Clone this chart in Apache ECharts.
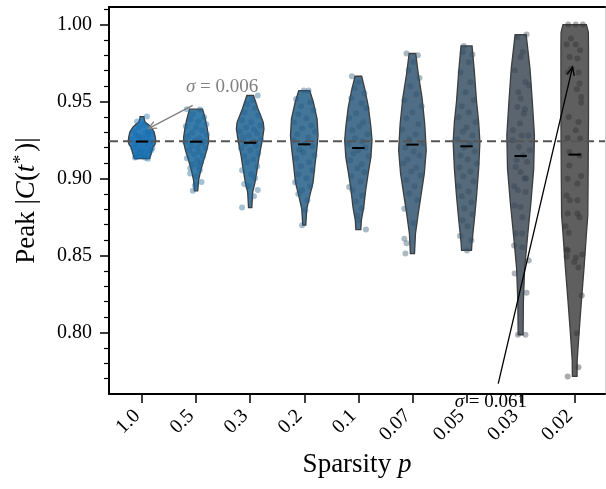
<!DOCTYPE html>
<html><head><meta charset="utf-8">
<script src="https://cdn.jsdelivr.net/npm/echarts@6/dist/echarts.min.js"></script>
<style>html,body{margin:0;padding:0;background:#fff}#c{width:606px;height:489px}</style>
</head><body><div id="c"></div>
<script>
// ---------- data ----------
const categories = ['1.0','0.5','0.3','0.2','0.1','0.07','0.05','0.03','0.02'];
const yMajorTicks = [0.80,0.85,0.90,0.95,1.00];
const yMinorTicks = [0.77,0.78,0.79,0.81,0.82,0.83,0.84,0.86,0.87,0.88,0.89,0.91,0.92,0.93,0.94,0.96,0.97,0.98,0.99,1.01];
const referenceLevel = 0.9242;
const medians = [0.9240,0.9239,0.9232,0.9222,0.9198,0.9220,0.9209,0.9146,0.9155];

// violin outlines: [value, relative density]
const outline10  = [[0.9402,0.14],[0.9385,0.16],[0.9367,0.22],[0.9350,0.45],[0.9334,0.66],[0.9302,0.88],[0.9270,0.96],[0.9241,1.0],[0.9220,0.93],[0.9204,0.80],[0.9161,0.66],[0.9129,0.55]];
const outline05  = [[0.9450,0.47],[0.9410,0.60],[0.9378,0.69],[0.9330,0.80],[0.9270,0.90],[0.9237,0.91],[0.9183,0.77],[0.9107,0.51],[0.9042,0.31],[0.8988,0.18],[0.8920,0.12]];
const outline03  = [[0.9539,0.24],[0.9451,0.57],[0.9365,0.95],[0.9321,1.0],[0.9235,0.85],[0.9149,0.66],[0.9061,0.51],[0.8975,0.35],[0.8910,0.18],[0.8811,0.12]];
const outline02  = [[0.9571,0.40],[0.9495,0.66],[0.9386,0.93],[0.9279,1.0],[0.9191,0.91],[0.9084,0.77],[0.8975,0.64],[0.8889,0.40],[0.8801,0.18],[0.8697,0.11]];
const outline01  = [[0.9664,0.24],[0.9573,0.49],[0.9464,0.73],[0.9334,0.91],[0.9248,0.99],[0.9139,0.91],[0.9032,0.71],[0.8923,0.53],[0.8814,0.39],[0.8728,0.22],[0.8668,0.18]];
const outline007 = [[0.9812,0.24],[0.9682,0.42],[0.9529,0.69],[0.9357,0.89],[0.9183,1.0],[0.9032,0.86],[0.8902,0.64],[0.8772,0.42],[0.8642,0.22],[0.8512,0.15]];
const outline005 = [[0.9861,0.40],[0.9714,0.55],[0.9497,0.73],[0.9367,0.88],[0.9237,0.97],[0.9064,0.88],[0.8890,0.73],[0.8717,0.55],[0.8587,0.40],[0.8533,0.36]];
const outline003 = [[0.9935,0.40],[0.9714,0.68],[0.9497,0.85],[0.9280,1.0],[0.9064,0.95],[0.8847,0.75],[0.8630,0.51],[0.8414,0.29],[0.8197,0.20],[0.7985,0.18]];
const outline002 = [[1.0000,0.85],[0.9950,0.99],[0.9844,1.0],[0.9410,1.0],[0.8977,0.97],[0.8760,0.95],[0.8642,0.85],[0.8424,0.68],[0.8208,0.49],[0.7992,0.31],[0.7818,0.18],[0.7714,0.17]];

// jittered points: [jitter (category units), value]
const points10 = [[0.09,0.9402],[-0.09,0.9371],[0.04,0.9352],[-0.06,0.9332],[0.13,0.9318],[-0.15,0.9306],[0.06,0.9299],[0.17,0.9286],[-0.11,0.9280],[0.00,0.9267],[0.09,0.9260],[-0.19,0.9254],[-0.04,0.9248],[0.15,0.9241],[0.20,0.9235],[-0.13,0.9228],[0.04,0.9222],[-0.07,0.9215],[0.11,0.9209],[-0.17,0.9202],[0.19,0.9196],[0.00,0.9189],[-0.09,0.9183],[0.07,0.9176],[-0.04,0.9170],[0.13,0.9163],[-0.11,0.9157],[0.02,0.9150],[-0.10,0.9139],[0.11,0.9129],[-0.13,0.9137],[0.06,0.9134],[-0.02,0.9144],[-0.06,0.9274],[0.17,0.9183],[0.11,0.9293]];
const points05 = [[-0.17,0.9450],[0.07,0.9448],[-0.06,0.9417],[0.15,0.9397],[-0.11,0.9384],[0.04,0.9371],[0.19,0.9352],[-0.19,0.9339],[0.00,0.9332],[0.11,0.9313],[-0.07,0.9299],[0.20,0.9286],[-0.15,0.9274],[0.06,0.9261],[-0.02,0.9248],[0.15,0.9241],[-0.20,0.9235],[0.09,0.9228],[-0.09,0.9215],[0.02,0.9202],[0.17,0.9196],[-0.13,0.9183],[0.06,0.9170],[-0.04,0.9157],[0.13,0.9144],[-0.17,0.9131],[0.02,0.9118],[0.09,0.9105],[-0.07,0.9092],[0.04,0.9079],[-0.11,0.9066],[0.07,0.9053],[-0.11,0.9032],[0.10,0.8977],[-0.06,0.8920],[0.00,0.9014],[-0.02,0.8955]];
const points03 = [[0.14,0.9539],[0.04,0.9508],[-0.06,0.9482],[0.09,0.9456],[-0.11,0.9430],[0.15,0.9410],[-0.15,0.9378],[0.02,0.9365],[0.19,0.9345],[-0.07,0.9332],[0.07,0.9319],[-0.19,0.9306],[0.13,0.9293],[-0.02,0.9280],[-0.13,0.9267],[0.20,0.9254],[0.06,0.9241],[-0.09,0.9228],[0.11,0.9215],[-0.17,0.9196],[0.00,0.9183],[0.15,0.9163],[-0.11,0.9144],[0.06,0.9124],[-0.06,0.9105],[0.13,0.9079],[-0.15,0.9053],[0.02,0.9027],[0.09,0.9001],[-0.11,0.8964],[0.14,0.8925],[-0.04,0.8949],[-0.15,0.8811],[0.07,0.8884]];
const points02 = [[-0.01,0.9571],[0.08,0.9571],[-0.15,0.9516],[0.11,0.9495],[-0.06,0.9469],[0.17,0.9443],[-0.11,0.9417],[0.04,0.9391],[-0.19,0.9365],[0.13,0.9345],[-0.04,0.9326],[0.20,0.9306],[-0.13,0.9287],[0.07,0.9267],[-0.20,0.9248],[0.02,0.9228],[0.15,0.9209],[-0.09,0.9189],[-0.02,0.9170],[0.19,0.9150],[-0.15,0.9131],[0.09,0.9105],[-0.06,0.9079],[0.15,0.9053],[-0.11,0.9027],[0.04,0.9001],[-0.17,0.8975],[0.11,0.8949],[-0.04,0.8923],[-0.11,0.8899],[0.06,0.8858],[-0.04,0.8697],[0.02,0.8793]];
const points01 = [[-0.12,0.9664],[0.00,0.9625],[-0.07,0.9586],[0.11,0.9553],[-0.13,0.9521],[0.06,0.9488],[0.15,0.9456],[-0.04,0.9423],[-0.17,0.9391],[0.09,0.9365],[0.02,0.9339],[-0.11,0.9313],[0.17,0.9287],[-0.06,0.9261],[0.07,0.9241],[-0.19,0.9222],[0.13,0.9202],[0.00,0.9183],[-0.09,0.9163],[0.19,0.9144],[-0.15,0.9118],[0.06,0.9092],[-0.02,0.9066],[0.11,0.9040],[-0.13,0.9014],[0.04,0.8981],[-0.17,0.8945],[-0.11,0.8923],[0.07,0.8890],[-0.04,0.8851],[0.06,0.8806],[-0.02,0.8760],[0.00,0.8728],[0.14,0.8668]];
const points007 = [[-0.11,0.9812],[0.10,0.9801],[0.02,0.9756],[-0.07,0.9703],[0.13,0.9652],[-0.04,0.9599],[0.07,0.9547],[-0.15,0.9508],[0.17,0.9469],[0.00,0.9430],[-0.11,0.9391],[0.11,0.9352],[-0.19,0.9319],[0.06,0.9287],[-0.06,0.9254],[0.19,0.9228],[-0.13,0.9202],[0.02,0.9176],[0.13,0.9150],[-0.09,0.9124],[-0.17,0.9098],[0.07,0.9072],[-0.02,0.9046],[0.15,0.9020],[-0.11,0.8988],[0.04,0.8949],[-0.06,0.8903],[0.09,0.8858],[-0.15,0.8804],[0.02,0.8710],[-0.15,0.8609],[-0.11,0.8580],[-0.13,0.8512]];
const points005 = [[-0.05,0.9861],[0.11,0.9805],[-0.07,0.9820],[0.04,0.9755],[-0.11,0.9690],[0.07,0.9625],[-0.02,0.9560],[0.13,0.9508],[-0.09,0.9469],[0.04,0.9430],[-0.15,0.9397],[0.17,0.9365],[0.00,0.9332],[-0.07,0.9306],[0.11,0.9280],[-0.17,0.9254],[0.06,0.9228],[-0.04,0.9202],[0.15,0.9176],[-0.11,0.9150],[0.02,0.9124],[0.19,0.9098],[-0.13,0.9072],[0.07,0.9046],[-0.06,0.9014],[0.13,0.8981],[-0.15,0.8949],[0.04,0.8916],[-0.09,0.8884],[0.09,0.8845],[-0.04,0.8806],[0.11,0.8767],[-0.07,0.8728],[0.02,0.8689],[-0.12,0.8626],[0.01,0.8533],[0.09,0.8598]];
const points003 = [[-0.06,0.9919],[0.11,0.9935],[0.00,0.9789],[0.04,0.9822],[-0.11,0.9703],[0.09,0.9627],[0.15,0.9606],[0.00,0.9519],[-0.06,0.9464],[0.06,0.9422],[-0.01,0.9357],[0.14,0.9280],[-0.14,0.9313],[-0.03,0.9204],[0.12,0.9107],[-0.09,0.9074],[0.00,0.9042],[-0.15,0.9248],[0.17,0.9183],[0.07,0.9001],[-0.05,0.8923],[0.09,0.8912],[-0.11,0.8825],[0.00,0.8814],[0.03,0.8749],[-0.09,0.8642],[0.03,0.8642],[-0.12,0.8565],[0.03,0.8554],[0.15,0.8467],[-0.11,0.8382],[0.11,0.8258],[-0.05,0.7985],[0.09,0.7985],[0.05,0.9150],[-0.07,0.9120],[0.02,0.9280],[-0.04,0.9560],[0.08,0.9450],[0.10,0.9000],[-0.12,0.8950]];
const points002 = [[-0.12,1.0000],[0.02,1.0000],[0.15,1.0000],[-0.07,0.9909],[-0.15,0.9870],[0.02,0.9870],[0.10,0.9833],[-0.09,0.9789],[0.05,0.9779],[-0.06,0.9714],[0.07,0.9688],[-0.13,0.9688],[0.09,0.9617],[0.04,0.9579],[0.12,0.9529],[0.12,0.9493],[-0.11,0.9399],[0.07,0.9367],[0.02,0.9313],[-0.13,0.9263],[0.10,0.9259],[-0.10,0.9172],[0.09,0.9150],[-0.10,0.9085],[-0.13,0.8999],[0.12,0.9016],[0.05,0.8967],[-0.15,0.8890],[-0.09,0.8858],[0.05,0.8858],[-0.13,0.8772],[0.05,0.8772],[0.09,0.8749],[-0.17,0.8689],[-0.11,0.8648],[-0.15,0.8538],[-0.13,0.8533],[0.14,0.8507],[-0.15,0.8494],[0.02,0.8486],[-0.01,0.8457],[0.07,0.8421],[0.13,0.8240],[0.04,0.7995],[0.07,0.7774],[-0.13,0.7714]];

// annotations (data coordinates)
const annotTexts = ['0.006','0.061'];
const annotTextAt = [[1.48,0.9592],[6.45,0.7547]];
const annotArrowFrom = [[0.937,0.9475],[6.586,0.7667]];
const annotArrowTo = [[0.116,0.9324],[7.96,0.9724]];

// ---------- styles ----------
const violinOutlines = [outline10,outline05,outline03,outline02,outline01,outline007,outline005,outline003,outline002];
const pointSets = [points10,points05,points03,points02,points01,points007,points005,points003,points002];
const violinFill = ['#2e80bc','#397caa','#3e79a2','#447699','#4a7290','#4f6e86','#556a7b','#5a6570','#5f5f5f'];
const pointColor = ['rgba(20,105,170,0.5)','rgba(28,98,150,0.5)','rgba(32,94,140,0.5)','rgba(36,90,130,0.5)','rgba(40,84,116,0.5)','rgba(44,80,106,0.5)','rgba(48,74,94,0.5)','rgba(50,64,78,0.5)','rgba(45,45,45,0.5)'];
const annotColors = ['#808080','#000000'];
const HALF = 0.255;
const FONT = 'Liberation Serif';
const xMin = -0.61, xMax = 8.56, yMin = 0.76, yMax = 1.0114;

const chart = echarts.init(document.getElementById('c'), null, {renderer:'canvas'});
const catPos = categories.map((c,i)=>i);

const series = [];
series.push({
  type:'custom', z:2, silent:true,
  data: categories.map((c,i)=>[i]),
  renderItem:(params, api)=>{
    const i = params.dataIndex, o = violinOutlines[i];
    const pts = [];
    o.forEach(([v,d])=>pts.push(api.coord([i + d*HALF, v])));
    for (let k=o.length-1;k>=0;k--) pts.push(api.coord([i - o[k][1]*HALF, o[k][0]]));
    return {type:'polygon', shape:{points:pts}, style:{fill:violinFill[i], stroke:'#3d3d3d', lineWidth:1.3}};
  }
});
pointSets.forEach((pts,i)=>{
  series.push({type:'scatter', z:3, silent:true, symbolSize:6,
    itemStyle:{color:pointColor[i]},
    data: pts.map(([j,v])=>[i+j, v])});
});
// dashed reference level across the full axis width
series.push({
  type:'custom', z:4, silent:true,
  data: [[referenceLevel]],
  renderItem:(params, api)=>{
    const v = api.value(0);
    const a = api.coord([xMin, v]), b = api.coord([xMax, v]);
    return {type:'line', shape:{x1:a[0],y1:a[1],x2:b[0],y2:b[1]}, style:{stroke:'#555', lineWidth:1.8, lineDash:[9,5]}};
  }
});
series.push({
  type:'custom', z:5, silent:true,
  data: medians.map((m,i)=>[i,m]),
  renderItem:(params, api)=>{
    const i = api.value(0), m = api.value(1);
    const a = api.coord([i-0.115, m]), b = api.coord([i+0.115, m]);
    return {type:'line', shape:{x1:a[0],y1:a[1],x2:b[0],y2:b[1]}, style:{stroke:'#000', lineWidth:2}};
  }
});
series.push({
  type:'custom', z:6, silent:true, clip:false,
  data: annotTexts.map((t,i)=>[i]),
  renderItem:(params, api)=>{
    const i = params.dataIndex, col = annotColors[i];
    const p0 = api.coord(annotArrowFrom[i]), p1 = api.coord(annotArrowTo[i]);
    const t = api.coord(annotTextAt[i]);
    const ang = Math.atan2(p1[1]-p0[1], p1[0]-p0[0]);
    const L = 9, th = 0.42;
    const h1 = [p1[0]-L*Math.cos(ang-th), p1[1]-L*Math.sin(ang-th)];
    const h2 = [p1[0]-L*Math.cos(ang+th), p1[1]-L*Math.sin(ang+th)];
    return {type:'group', children:[
      {type:'line', shape:{x1:p0[0],y1:p0[1],x2:p1[0],y2:p1[1]}, style:{stroke:col, lineWidth:1.3}},
      {type:'polyline', shape:{points:[h1,p1,h2]}, style:{stroke:col, lineWidth:1.3, fill:null}},
      {type:'text', x:t[0], y:t[1], style:{text:'{i|σ} = '+annotTexts[i], fill:col, align:'center', verticalAlign:'middle',
        font:'19px "'+FONT+'"', rich:{i:{fontStyle:'italic', fontFamily:FONT, fontSize:19, fill:col}}}}
    ]};
  }
});

const tickStyle = {color:'#000', width:1.5};
chart.setOption({
  animation:false,
  backgroundColor:'#fff',
  grid:{left:109, top:7, width:496, height:387, containLabel:false},
  xAxis:[
    {type:'value', min:xMin, max:xMax, position:'bottom',
      axisLine:{show:true, onZero:false, lineStyle:{color:'#000', width:2}},
      axisTick:{show:true, customValues:catPos, length:9, lineStyle:tickStyle},
      axisLabel:{show:true, customValues:catPos, formatter:(v)=>categories[Math.round(v)], rotate:45,
        fontFamily:FONT, fontSize:20, color:'#000', margin:14, padding:[0,7,0,0]},
      splitLine:{show:false},
      name:'{r|Sparsity }{i|p}', nameLocation:'middle', nameGap:53,
      nameTextStyle:{rich:{r:{fontFamily:FONT, fontSize:27, color:'#000'}, i:{fontFamily:FONT, fontSize:27, fontStyle:'italic', color:'#000'}}}},
    {type:'value', min:xMin, max:xMax, position:'top',
      axisLine:{show:true, onZero:false, lineStyle:{color:'#000', width:2}},
      axisTick:{show:false}, axisLabel:{show:false}, splitLine:{show:false}}
  ],
  yAxis:[
    {type:'value', min:yMin, max:yMax, position:'left',
      axisLine:{show:true, onZero:false, lineStyle:{color:'#000', width:2}},
      axisTick:{show:true, customValues:yMajorTicks, length:9, lineStyle:tickStyle},
      axisLabel:{show:true, customValues:yMajorTicks, formatter:(v)=>v.toFixed(2), fontFamily:FONT, fontSize:20, color:'#000', margin:17},
      splitLine:{show:false},
      name:'{r|Peak }{r||}{i|C}{r|(}{i|t}{s|*}{r|)|}', nameLocation:'middle', nameGap:67, nameRotate:90,
      nameTextStyle:{rich:{
        r:{fontFamily:FONT, fontSize:27, color:'#000'},
        i:{fontFamily:FONT, fontSize:27, fontStyle:'italic', color:'#000'},
        s:{fontFamily:FONT, fontSize:18, color:'#000', padding:[0,3,12,1]}}}},
    {type:'value', min:yMin, max:yMax, position:'left', offset:0,
      axisLine:{show:false, onZero:false}, axisTick:{show:true, customValues:yMinorTicks, length:5, lineStyle:{color:'#000', width:1.2}},
      axisLabel:{show:false}, splitLine:{show:false}},
    {type:'value', min:yMin, max:yMax, position:'right', offset:0,
      axisLine:{show:true, onZero:false, lineStyle:{color:'#d0d0d0', width:1}},
      axisTick:{show:false}, axisLabel:{show:false}, splitLine:{show:false}}
  ],
  series: series
});
</script>
</body></html>
